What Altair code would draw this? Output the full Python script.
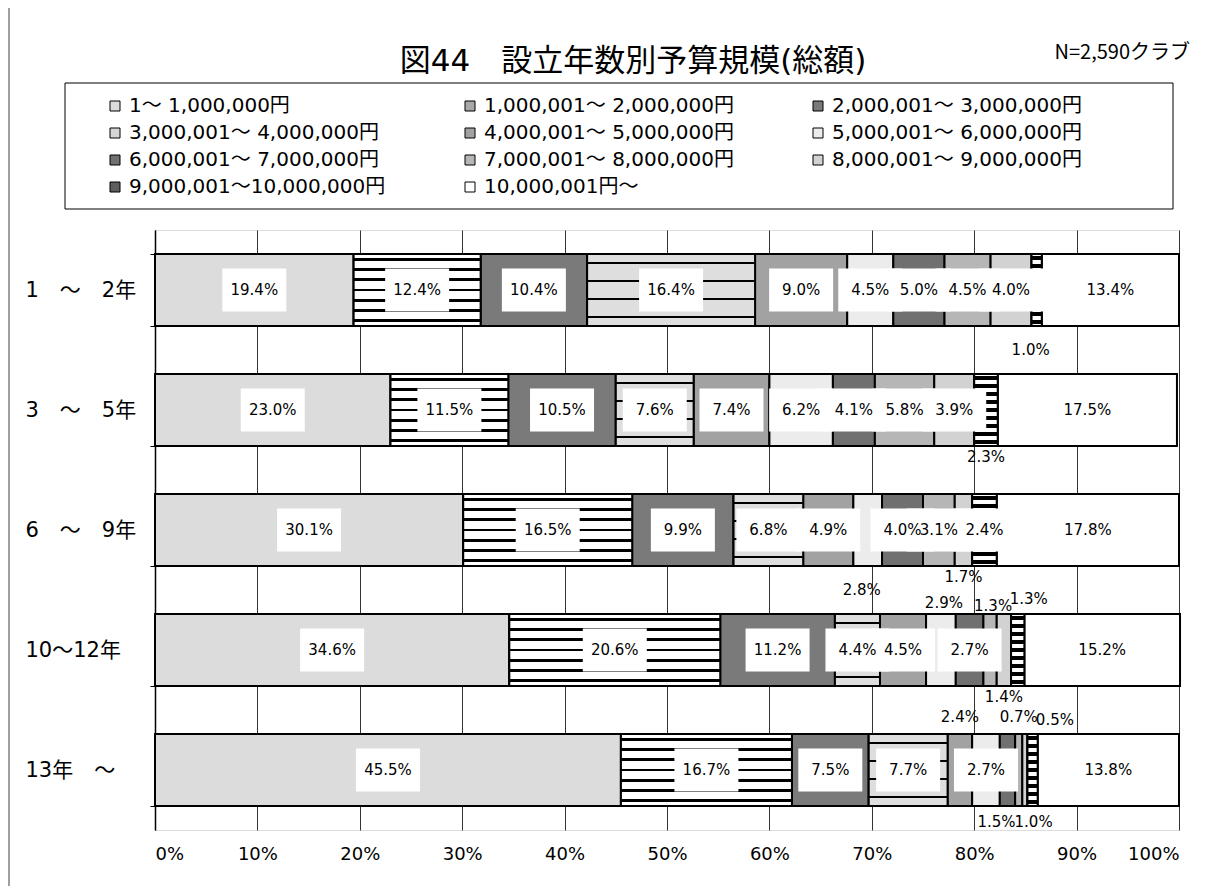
import altair as alt
import pandas as pd

TITLE = "図44　設立年数別予算規模(総額)"
N_NOTE = "N=2,590クラブ"
FONT = "DejaVu Sans, Noto Sans CJK JP"
FONT_JP = "Noto Sans CJK JP"

rows = ["1　～　2年", "3　～　5年", "6　～　9年", "10～12年", "13年　～"]
categories = [
    "1～ 1,000,000円", "1,000,001～ 2,000,000円", "2,000,001～ 3,000,000円",
    "3,000,001～ 4,000,000円", "4,000,001～ 5,000,000円", "5,000,001～ 6,000,000円",
    "6,000,001～ 7,000,000円", "7,000,001～ 8,000,000円", "8,000,001～ 9,000,000円",
    "9,000,001～10,000,000円", "10,000,001円～",
]

vals_1_2 = [19.4, 12.4, 10.4, 16.4, 9.0, 4.5, 5.0, 4.5, 4.0, 1.0, 13.4]
vals_3_5 = [23.0, 11.5, 10.5, 7.6, 7.4, 6.2, 4.1, 5.8, 3.9, 2.3, 17.5]
vals_6_9 = [30.1, 16.5, 9.9, 6.8, 4.9, 2.8, 4.0, 3.1, 1.7, 2.4, 17.8]
vals_10_12 = [34.6, 20.6, 11.2, 4.4, 4.5, 2.9, 2.7, 1.3, 1.4, 1.3, 15.2]
vals_13 = [45.5, 16.7, 7.5, 7.7, 2.4, 2.7, 1.5, 0.7, 0.5, 1.0, 13.8]

# where each value label sits: inside the bar, or in the gap above / below it
place_1_2 = ["in"] * 9 + ["under_low", "in"]
place_3_5 = ["in"] * 9 + ["under", "in"]
place_6_9 = ["in"] * 5 + ["under_low", "in", "in", "under", "in", "in"]
place_10_12 = ["in"] * 5 + ["over", "in", "over_r", "under", "over_rr", "in"]
place_13 = ["in"] * 4 + ["over_high", "in", "under_l", "over_high", "over_far", "under_b", "in"]

# label offsets (dy, dx) in pixels for each placement name
offsets = {"in": (0, 0), "under": (47, 0), "under_low": (60, -6), "under_b": (52, 1),
           "under_l": (52, -11), "over": (-47, 3), "over_r": (-44, 3),
           "over_rr": (-51, 11), "over_high": (-53, 0), "over_far": (-50, 30)}

x_ticks = list(range(0, 101, 10))
grays = ["#dcdcdc", "#a8a8a8", "#7a7a7a", "#d6d6d6", "#a2a2a2", "#ececec",
         "#707070", "#b6b6b6", "#d2d2d2", "#5e5e5e", "#ffffff"]
# the legend fills its grid column by column; this order gives the reference's rows
legend_order = [0, 3, 6, 9, 1, 4, 7, 10, 2, 5, 8]


def stripes(n, black_frac, bg="white"):
    """Horizontal black stripes, as a vertical linear gradient fill."""
    stops = [{"offset": 0, "color": bg}]
    for k in range(n):
        s = (k + 0.5 - black_frac / 2) / n
        e = (k + 0.5 + black_frac / 2) / n
        stops += [{"offset": s, "color": bg}, {"offset": s, "color": "black"},
                  {"offset": e, "color": "black"}, {"offset": e, "color": bg}]
    stops.append({"offset": 1, "color": bg})
    return {"gradient": "linear", "x1": 0, "y1": 0, "x2": 0, "y2": 1, "stops": stops}


striped = {1: stripes(7, 0.28), 3: stripes(4, 0.06, "#dedede"), 9: stripes(9, 0.5)}

all_vals = [vals_1_2, vals_3_5, vals_6_9, vals_10_12, vals_13]
all_places = [place_1_2, place_3_5, place_6_9, place_10_12, place_13]

records = []
for name, vals, places in zip(rows, all_vals, all_places):
    for i, (cat, v, p) in enumerate(zip(categories, vals, places)):
        records.append(dict(row=name, idx=i, cat=cat, pct=v, label=f"{v:.1f}%", place=p))
df = pd.DataFrame(records)

W, H = 1024, 600

base = alt.Chart(df)

bars = base.mark_bar(stroke="black", strokeWidth=2).encode(
    x=alt.X("pct:Q", stack="zero", title=None,
            scale=alt.Scale(domain=[0, 100], nice=False, zero=True),
            axis=alt.Axis(values=x_ticks, labelExpr="datum.value + '%'", grid=True,
                          gridColor="#333333", gridWidth=1, ticks=False, domain=False,
                          labelFontSize=18, labelFont=FONT, labelColor="black",
                          labelPadding=15, title=None)),
    y=alt.Y("row:N", sort=rows, title=None,
            scale=alt.Scale(paddingInner=0.4, paddingOuter=0.2),
            axis=alt.Axis(grid=False, domainColor="black", domainWidth=1.5, ticks=True,
                          tickBand="extent", tickSize=5, tickColor="black",
                          labelAlign="left", labelPadding=125, labelFontSize=21,
                          labelFont=FONT, labelColor="black", title=None)),
    color=alt.Color("cat:N",
                    scale=alt.Scale(domain=[categories[i] for i in legend_order],
                                    range=[grays[i] for i in legend_order]),
                    legend=alt.Legend(orient="none", legendX=-50, legendY=-134, columns=3,
                                      title=None, symbolType="square", symbolSize=100,
                                      symbolStrokeColor="black", symbolStrokeWidth=1,
                                      labelFont=FONT, labelFontSize=20, labelColor="black",
                                      columnPadding=74, rowPadding=7, labelLimit=600,
                                      labelOffset=4, padding=0, gridAlign="each")),
    order=alt.Order("idx:Q"),
)

lab = base.transform_window(
    cum="sum(pct)", groupby=["row"], sort=[alt.SortField("idx")], frame=[None, 0]
).transform_calculate(mid="datum.cum - datum.pct / 2", start="datum.cum - datum.pct")

yenc = alt.Y("row:N", sort=rows, title=None)

overlays = []
for k, grad in striped.items():
    overlays.append(
        lab.transform_filter(f"datum.idx == {k}").mark_bar(
            stroke="black", strokeWidth=2
        ).encode(x=alt.X("start:Q", title=None), x2="cum:Q", y=yenc, fill=alt.value(grad))
    )

enc = dict(x=alt.X("mid:Q", title=None), y=yenc)

boxes = lab.transform_filter("datum.place == 'in' && datum.idx < 10").mark_point(
    shape="M-1,-0.67H1V0.67H-1Z", size=4096, filled=True, color="white",
    opacity=1, strokeWidth=0
).encode(**enc)

texts = []
for key, (dy, dx) in offsets.items():
    texts.append(
        lab.transform_filter(f"datum.place == '{key}'").mark_text(
            font=FONT, fontSize=15, color="black", baseline="middle", align="center",
            dy=dy, dx=dx
        ).encode(text="label:N", **enc)
    )

one = alt.Data(values=[{"t": 1}])
frame = alt.Chart(one).mark_rect(fillOpacity=0, stroke="#808080", strokeWidth=1.5).encode(
    x=alt.value(-146), x2=alt.value(1200), y=alt.value(-223), y2=alt.value(800)
)
legend_box = alt.Chart(one).mark_rect(fillOpacity=0, stroke="black", strokeWidth=1).encode(
    x=alt.value(-90), x2=alt.value(1018), y=alt.value(-147), y2=alt.value(-21)
)
title = alt.Chart(one).mark_text(font=FONT, fontSize=31, color="black",
                                 align="center", baseline="middle", text=TITLE).encode(
    x=alt.value(478), y=alt.value(-168)
)
note = alt.Chart(one).mark_text(font=FONT_JP, fontSize=20, color="black",
                                align="right", baseline="middle", text=N_NOTE).encode(
    x=alt.value(1035), y=alt.value(-177)
)

chart = alt.layer(frame, legend_box, title, note, bars, *overlays, boxes, *texts).properties(
    width=W, height=H,
    padding={"left": 147, "top": 222, "right": 27, "bottom": 56},
    autosize=alt.AutoSizeParams(type="none"),
).configure_view(stroke="#808080", strokeWidth=1.5).configure(background="white")

chart.save("out.html", embed_options={"renderer": "svg", "actions": False})
